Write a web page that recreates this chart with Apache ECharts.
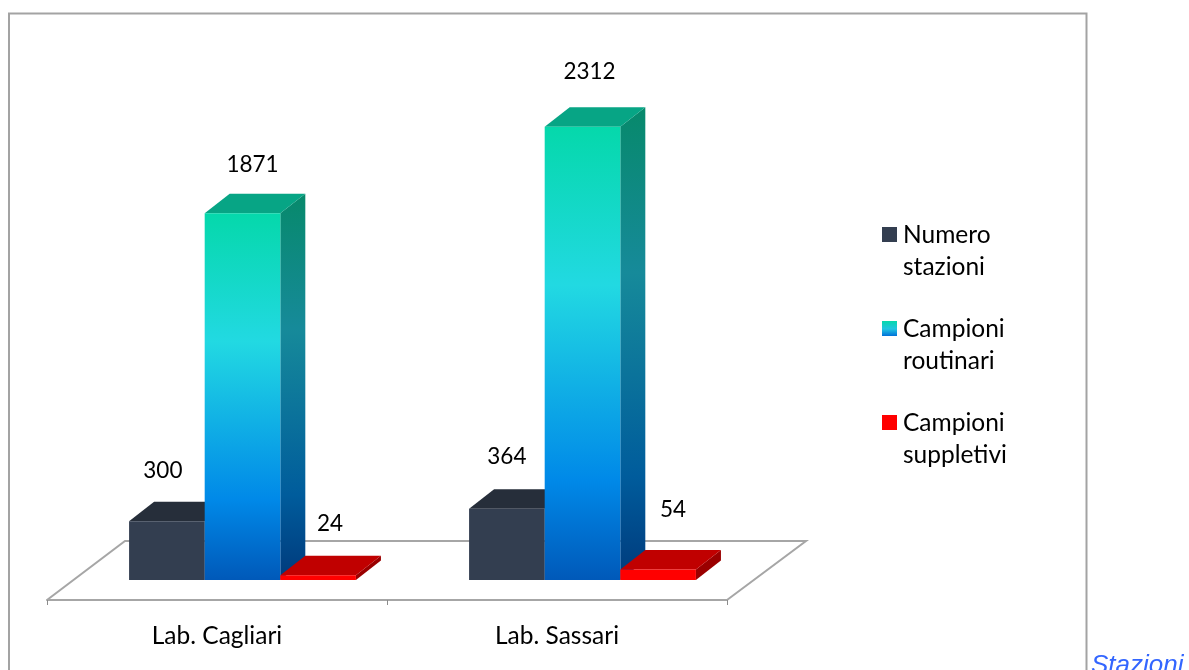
<!DOCTYPE html>
<html><head><meta charset="utf-8">
<style>html,body{margin:0;padding:0;background:#fff;overflow:hidden}#c{width:1189px;height:670px}</style>
<script src="https://cdn.jsdelivr.net/npm/echarts@6/dist/echarts.min.js"></script>
</head><body><div id="c"></div>
<script>
const categories = ['Lab. Cagliari', 'Lab. Sassari'];
const seriesNames = ['Numero stazioni', 'Campioni routinari', 'Campioni suppletivi'];
const numeroStazioni = [300, 364];
const campioniRoutinari = [1871, 2312];
const campioniSuppletivi = [24, 54];

const FONT = 'Lato, "Open Sans", sans-serif';
const FONT_SIZE = 24.5, LABEL_SIZE = 22.5;
const DEPTH_X = 25, DEPTH_Y = 19.5, BAR_RATIO = 0.2224, GROUP_SHIFT = 25.5;
const grad = (stops) => ({type:'linear',x:0,y:0,x2:0,y2:1,colorStops:stops.map(s=>({offset:s[0],color:s[1]}))});
const looks = [
  {front:'#333e50', top:'#262e3a', side:'#1f2630', legend:'#333e50'},
  {front:grad([[0,'#05d8ab'],[0.35,'#22d9e2'],[0.78,'#0089e8'],[1,'#0059b9']]),
   top:'#07a585',
   side:grad([[0,'#07896b'],[0.35,'#168a9a'],[0.78,'#005c9c'],[1,'#003a7c']]),
   legend:grad([[0.125,'#05d8ab'],[0.25,'#22c5e2'],[0.36,'#0070d8']])},
  {front:'#ff0000', top:'#c00000', side:'#9a0000', legend:'#ff0000'}
];
// label nudges [dx, dy] relative to bar-top centre, per series & category
const labelNudges = [[[-4,-50],[0,-52]],[[10,-49],[7,-55]],[[12,-52],[15,-60]]];

function barSeries(name, values, idx){
  return {
    name, type:'custom', coordinateSystem:'cartesian2d', clip:false, z:3+idx,
    itemStyle:{color:looks[idx].legend},
    encode:{x:0,y:1},
    data: values.map((v,i)=>[categories[i], v]),
    renderItem(params, api){
      const band = api.size([1,0])[0];
      const w = band*BAR_RATIO;
      const v = api.value(1);
      const catIdx = params.dataIndex;
      const p = api.coord([catIdx, v]);
      const base = api.coord([catIdx, 0]);
      const x0 = p[0] + GROUP_SHIFT + (idx-1.5)*w, x1 = x0+w;
      const yT = p[1], yB = base[1];
      const look = looks[idx];
      const poly = (points, fill) => ({type:'polygon', shape:{points}, style:{fill, stroke:null}, silent:true});
      const nudge = labelNudges[idx][catIdx];
      return {type:'group', children:[
        poly([[x1,yT],[x1+DEPTH_X,yT-DEPTH_Y],[x1+DEPTH_X,yB-DEPTH_Y],[x1,yB]], look.side),
        poly([[x0,yT],[x0+DEPTH_X,yT-DEPTH_Y],[x1+DEPTH_X,yT-DEPTH_Y],[x1,yT]], look.top),
        {type:'rect', shape:{x:x0,y:yT,width:w,height:yB-yT}, style:{fill:look.front}, silent:true},
        {type:'text', style:{x:(x0+x1)/2+nudge[0], y:yT+nudge[1], text:String(v), fill:'#000',
          font:LABEL_SIZE+'px '+FONT, align:'center', verticalAlign:'middle'}, z2:50}
      ]};
    }
  };
}

const chart = echarts.init(document.getElementById('c'), null, {renderer:'canvas'});
chart.setOption({
  animation:false,
  backgroundColor:'#fff',
  title:{text:'Stazioni', left:1091, top:653, padding:0,
    textStyle:{color:'#3366ff', fontStyle:'italic', fontWeight:'normal', fontFamily:'"Liberation Sans"', fontSize:26}},
  graphic:[{type:'rect', z:0, silent:true, shape:{x:9,y:13.5,width:1077.5,height:670},
    style:{fill:'none', stroke:'#a3a3a3', lineWidth:2}}],
  grid:{left:47, right:462, top:90, bottom:90},
  xAxis:{type:'category', data:categories, offset:20, boundaryGap:true,
    z:2,
    axisLine:{onZero:false, lineStyle:{color:'#a6a6a6', width:2}},
    axisTick:{show:true, length:5, lineStyle:{color:'#8c8c8c', width:1}},
    axisLabel:{color:'#000', fontFamily:FONT, fontSize:FONT_SIZE, margin:24}},
  yAxis:{type:'value', min:0, max:2500, show:false},
  legend:{show:true, left:882, top:219, orient:'vertical', selectedMode:false, padding:0,
    itemWidth:15, itemHeight:64, itemGap:30,
    icon:'path://M0,0L0,0M0,8H15V23H0ZM0,64L0,64',
    data:seriesNames,
    formatter:(n)=>n.replace(' ','\n'),
    textStyle:{color:'#000', fontFamily:FONT, fontSize:FONT_SIZE, lineHeight:32, padding:[0,0,0,1]}},
  series:[
    {name:'floor', type:'custom', coordinateSystem:'cartesian2d', clip:false, z:1, silent:true,
     data:[[categories[0],0]], encode:{x:0,y:1},
     renderItem(params){
       const c = params.coordSys;
       const yBase = c.y+c.height;
       return {type:'polyline', shape:{points:[[c.x,yBase+20],[c.x+78,yBase-39],[c.x+759,yBase-39],[c.x+680,yBase+20]]},
         style:{fill:'#fff', stroke:'#a6a6a6', lineWidth:2}};
     }},
    barSeries(seriesNames[0], numeroStazioni, 0),
    barSeries(seriesNames[1], campioniRoutinari, 1),
    barSeries(seriesNames[2], campioniSuppletivi, 2)
  ]
});
</script></body></html>
